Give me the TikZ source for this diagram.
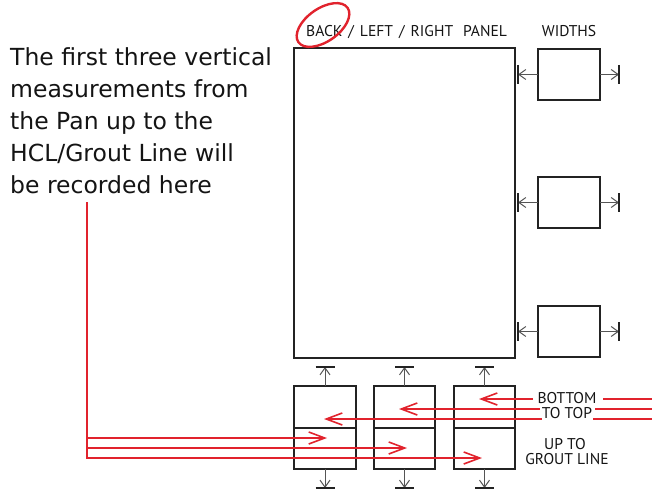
\documentclass[tikz,border=0pt]{standalone}
\usepackage{fontspec}
\setmainfont{DejaVu Sans}
\newfontfamily\myr{PT Sans}
\usetikzlibrary{arrows.meta}
\definecolor{rd}{RGB}{225,35,45}
\definecolor{dk}{RGB}{35,35,35}
\definecolor{gr}{RGB}{85,85,85}
\definecolor{tx}{RGB}{20,20,20}
\begin{document}
\begin{tikzpicture}[x=1pt,y=-1pt,
  box/.style={draw=dk,line width=2pt,inner sep=0pt,outer sep=0pt},
  dimline/.style={draw=gr,line width=1pt,-{Straight Barb[length=7pt,width=10pt]}},
  endtick/.style={draw=dk,line width=2pt},
  redline/.style={draw=rd,line width=1.6pt},
  redarrow/.style={redline,line join=miter,-{Straight Barb[length=16pt,width=12pt]}},
  lbl/.style={font=\myr\fontsize{15.6}{15.6}\selectfont,inner sep=0pt,text=tx}]
\useasboundingbox (0,0) rectangle (652,489);

% main panel
\node[box,minimum width=221pt,minimum height=310pt] (panel) at (404.5,203) {};
% width boxes
\node[box,minimum width=62pt,minimum height=51pt] (w1) at (569,74.5) {};
\node[box,minimum width=62pt,minimum height=51pt] (w2) at (569,202.5) {};
\node[box,minimum width=62pt,minimum height=51pt] (w3) at (569,331.5) {};
% bottom boxes
\node[box,minimum width=62pt,minimum height=83pt] (b1) at (325,427.5) {};
\node[box,minimum width=61pt,minimum height=83pt] (b2) at (404.5,427.5) {};
\node[box,minimum width=61pt,minimum height=83pt] (b3) at (484.5,427.5) {};
\foreach \b in {b1,b2,b3}{\draw[endtick] (\b.west) -- (\b.east);}

% width dimension marks
\foreach \w/\y in {w1/74.5,w2/202.5,w3/331.5}{
  \coordinate (L\w) at (518,\y);
  \coordinate (R\w) at (619,\y);
  \draw[dimline] (\w.west) -- (L\w);
  \draw[dimline] (\w.east) -- (R\w);
  \draw[endtick] (L\w) ++(0,-9.5) -- ++(0,19);
  \draw[endtick] (R\w) ++(0,-9.5) -- ++(0,19);
}
% vertical dimension marks
\foreach \b/\x in {b1/325,b2/404.5,b3/484.5}{
  \coordinate (T\b) at (\x,367);
  \coordinate (B\b) at (\x,488);
  \draw[dimline] (\b.north) -- (T\b);
  \draw[dimline] (\b.south) -- (B\b);
  \draw[endtick] (T\b) ++(-9.5,0) -- ++(19,0);
  \draw[endtick] (B\b) ++(-9.5,0) -- ++(19,0);
}

% texts
\node[lbl,anchor=base west] (title) at (306,37)
  {BACK\hspace{6pt}/\hspace{6pt}LEFT\hspace{6pt}/\hspace{6pt}RIGHT\hspace{10pt}PANEL};
\node[lbl,anchor=base] (widths) at (569,37) {WIDTHS};
\node[lbl,anchor=base] (bottom) at (567,403) {BOTTOM};
\node[lbl,anchor=base] (totop) at (567,418) {TO TOP};
\node[lbl,anchor=base] (upto) at (565,449) {UP TO};
\node[lbl,anchor=base] (grout) at (567,464) {GROUT LINE};
\node[anchor=north west,inner sep=0pt,align=left,text=tx,
      font=\fontsize{23.5}{32}\selectfont] (note) at (10,47)
  {The first three vertical\\measurements from\\the Pan up to the\\HCL/Grout Line will\\be recorded here};

% red circle around BACK
\draw[rd,line width=2.4pt,rotate around={35:(323,25)}] (323,25) ellipse (30 and 16.5);

% red arrows from the right
\coordinate (e1) at (652,399); \coordinate (g1) at (603,399);
\coordinate (s1) at (533,399); \coordinate (t1) at (479,399);
\coordinate (e2) at (652,409); \coordinate (g2) at (595,409);
\coordinate (s2) at (540,409); \coordinate (t2) at (399,409);
\coordinate (e3) at (652,419); \coordinate (g3) at (593,419);
\coordinate (s3) at (542,419); \coordinate (t3) at (324,419);
\foreach \i in {1,2,3}{
  \draw[redline] (e\i) -- (g\i);
  \draw[redarrow] (s\i) -- (t\i);
}

% red arrows from the note
\coordinate (v0) at (87,202);
\coordinate (v1) at (87,438); \coordinate (p1) at (327,438);
\coordinate (v2) at (87,448); \coordinate (p2) at (407,448);
\coordinate (v3) at (87,458); \coordinate (p3) at (482,458);
\draw[redarrow] (v0) -- (v3) -- (p3);
\draw[redarrow] (v1) -- (p1);
\draw[redarrow] (v2) -- (p2);
\end{tikzpicture}
\end{document}
